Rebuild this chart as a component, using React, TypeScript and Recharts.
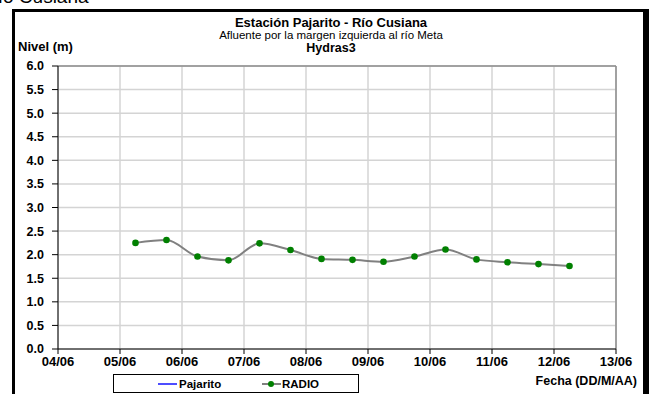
import React from "react";
import { LineChart, Line, XAxis, YAxis, CartesianGrid, ReferenceLine } from "recharts";

// días desde el 04/06 (06:00 y 18:00 de cada día)
const xDias = [1.25, 1.75, 2.25, 2.75, 3.25, 3.75, 4.25, 4.75, 5.25, 5.75, 6.25, 6.75, 7.25, 7.75, 8.25];
const radio = [2.25, 2.31, 1.96, 1.88, 2.24, 2.1, 1.91, 1.89, 1.85, 1.96, 2.11, 1.9, 1.84, 1.8, 1.76];
const pajarito: (number | null)[] = xDias.map(() => null);

const fechas = ["04/06", "05/06", "06/06", "07/06", "08/06", "09/06", "10/06", "11/06", "12/06", "13/06"];
const nivelTicks = [0, 0.5, 1, 1.5, 2, 2.5, 3, 3.5, 4, 4.5, 5, 5.5, 6];

const data = xDias.map((x, i) => ({ x, radio: radio[i], pajarito: pajarito[i] }));

const FONT = "Arial, 'Liberation Sans', sans-serif";

const txt = (s: React.CSSProperties): React.CSSProperties => ({
  position: "absolute",
  fontFamily: FONT,
  color: "#000",
  whiteSpace: "nowrap",
  lineHeight: 1,
  ...s,
});

export default function App() {
  return (
    <div style={{ position: "absolute", left: 0, top: 0, width: 649, height: 394, overflow: "hidden", background: "#fff" }}>
      <div style={txt({ left: -16, top: -13, fontSize: 19 })}>Río Cusiana</div>
      <div
        style={{
          position: "absolute",
          left: 12,
          top: 9,
          width: 637,
          height: 400,
          borderStyle: "solid",
          borderColor: "#000",
          borderWidth: "3px 6px 3px 3px",
          boxSizing: "border-box",
        }}
      />

      <LineChart
        width={649}
        height={394}
        data={data}
        margin={{ top: 66, right: 33, bottom: 25, left: 18 }}
        style={{ position: "absolute", left: 0, top: 0 }}
      >
        <CartesianGrid stroke="#d4d4d4" strokeWidth={1.5} />
        <ReferenceLine y={6} stroke="#8c8c8c" strokeWidth={1.5} />
        <ReferenceLine x={9} stroke="#8c8c8c" strokeWidth={1.5} />
        <XAxis
          dataKey="x"
          type="number"
          domain={[0, 9]}
          ticks={[0, 1, 2, 3, 4, 5, 6, 7, 8, 9]}
          tickFormatter={(v: number) => fechas[v]}
          axisLine={{ stroke: "#000" }}
          tickLine={{ stroke: "#000" }}
          tickSize={5}
          tickMargin={3}
          height={20}
          tick={{ fill: "#000", fontSize: 13, fontWeight: "bold", fontFamily: FONT }}
        />
        <YAxis
          type="number"
          domain={[0, 6]}
          ticks={nivelTicks}
          tickFormatter={(v: number) => v.toFixed(1)}
          axisLine={{ stroke: "#000" }}
          tickLine={{ stroke: "#000" }}
          tickSize={6}
          tickMargin={8}
          width={40}
          tick={{ fill: "#000", fontSize: 12.5, fontWeight: "bold", fontFamily: FONT }}
        />
        <Line dataKey="pajarito" stroke="#4d4dff" strokeWidth={2} dot={false} isAnimationActive={false} />
        <Line
          dataKey="radio"
          type="monotone"
          stroke="#808080"
          strokeWidth={2}
          dot={{ r: 3.3, fill: "#008000", stroke: "none" }}
          isAnimationActive={false}
        />
      </LineChart>

      <div style={txt({ left: 0, width: 662, top: 16, textAlign: "center", fontSize: 13, fontWeight: "bold" })}>
        Estación Pajarito  - Río Cusiana
      </div>
      <div style={txt({ left: 0, width: 662, top: 30, textAlign: "center", fontSize: 11.5 })}>
        Afluente por la margen izquierda al río Meta
      </div>
      <div style={txt({ left: 0, width: 662, top: 42, textAlign: "center", fontSize: 12.5, fontWeight: "bold" })}>
        Hydras3
      </div>
      <div style={txt({ left: 18, top: 40, fontSize: 13, fontWeight: "bold" })}>Nivel (m)</div>
      <div style={txt({ right: 12, top: 375, fontSize: 12.5, fontWeight: "bold" })}>Fecha (DD/M/AA)</div>

      <div
        style={{
          position: "absolute",
          left: 113,
          top: 374,
          width: 246,
          height: 19,
          border: "1px solid #000",
          boxSizing: "border-box",
        }}
      >
        <svg width={246} height={19} style={{ position: "absolute", left: -1, top: -1 }}>
          <line x1={45} x2={64} y1={10} y2={10} stroke="#4d4dff" strokeWidth={2} />
          <text x={66} y={14} fontFamily={FONT} fontSize={11.5} fontWeight="bold">Pajarito</text>
          <line x1={149} x2={168} y1={10} y2={10} stroke="#808080" strokeWidth={2} />
          <circle cx={158} cy={10} r={3} fill="#008000" />
          <text x={169} y={14} fontFamily={FONT} fontSize={11.5} fontWeight="bold">RADIO</text>
        </svg>
      </div>
    </div>
  );
}
